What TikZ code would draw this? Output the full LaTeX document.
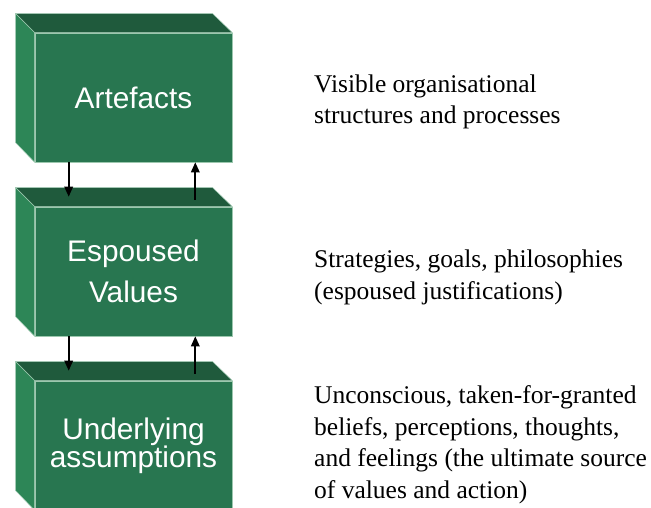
\documentclass[tikz,border=0pt]{standalone}
\usepackage{fontspec}
\setmainfont{Liberation Serif}
\newfontfamily\boxfont{Liberation Sans}
\usetikzlibrary{arrows.meta}
\definecolor{frontgreen}{HTML}{287650}
\definecolor{topgreen}{HTML}{1F5A3C}
\definecolor{sidegreen}{HTML}{2D8657}
\definecolor{edgegreen}{HTML}{9CC7AE}

\begin{document}
\begin{tikzpicture}[x=1pt,y=-1pt,
      level/.style={
        draw=edgegreen, line width=0.6pt, fill=frontgreen,
        minimum width=197pt, minimum height=129pt, inner sep=0pt,
        text=white, align=center
      },
      flow/.style={
        line width=1.7pt, -{Triangle[length=10pt,width=8.5pt]}
      },
      note/.style={
        anchor=north west, inner sep=0pt, align=left,
        font=\fontsize{25.5}{31.5}\selectfont
      }
    ]
    \useasboundingbox (0,0) rectangle (651,507);
    \clip (0,0) rectangle (651,507);
    \node [level, font=\boxfont\fontsize{29.8}{36}\selectfont] (art) at (133.5,97.5) {Artefacts};
    \node [level, font=\boxfont\fontsize{29.8}{41}\selectfont] (esp) at (133.5,271.5) {Espoused\\Values};
    \node [level, font=\boxfont\fontsize{29.8}{28}\selectfont] (und) at (133.5,445.5) {Underlying\\assumptions};
    % top and side faces
    \foreach \b in {art,esp,und} {
      \filldraw [fill=topgreen, draw=edgegreen, line width=0.5pt]
        (\b.north west) -- ++(-19,-19) -- ++(197,0) -- (\b.north east) -- cycle;
      \filldraw [fill=sidegreen, draw=edgegreen, line width=0.5pt]
        (\b.north west) -- ++(-19,-19) -- ++(0,129) -- (\b.south west) -- cycle;
    }
    \foreach \u/\l in {art/esp,esp/und} {
      \draw [flow] ([xshift=34pt]\u.south west) -- ([xshift=34pt,yshift=10pt]\l.north west);
      \draw [flow] ([xshift=-37pt,yshift=7pt]\l.north east) -- ([xshift=-37pt]\u.south east);
    }
    \node [note] (vis) at (314,74.6) {Visible organisational\\structures and processes};
    \node [note] (strat) at (314,249.6) {Strategies, goals, philosophies\\(espoused justifications)};
    \node [note] (uncon) at (314,385.6) {Unconscious, taken-for-granted\\beliefs, perceptions, thoughts,\\and feelings (the ultimate source\\of values and action)};
  \end{tikzpicture}
\end{document}
